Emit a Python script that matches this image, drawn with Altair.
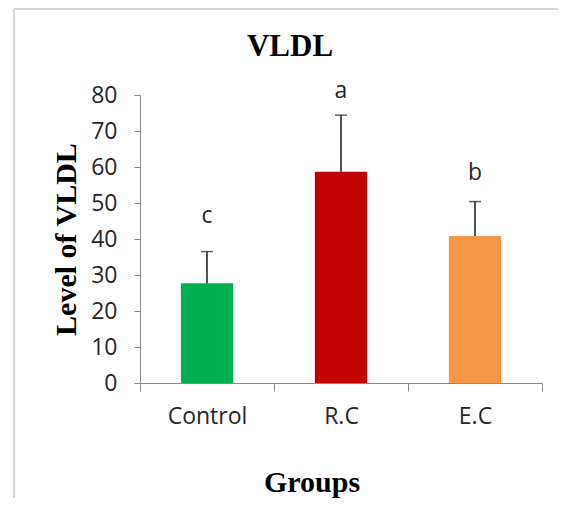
import altair as alt
import pandas as pd

groups = ["Control", "R.C", "E.C"]
means = [27.7, 58.7, 40.8]
upper = [36.5, 74.4, 50.4]
letters = ["c", "a", "b"]
letter_y = [44.4, 79.2, 56.4]
colors = ["#00B050", "#C00000", "#F79646"]
y_ticks = [0, 10, 20, 30, 40, 50, 60, 70, 80]

df = pd.DataFrame({
    "group": groups,
    "mean": means,
    "upper": upper,
    "letter": letters,
    "letter_y": letter_y,
})

x_scale = alt.Scale(domain=groups, paddingInner=0, paddingOuter=0)
x_axis = alt.Axis(
    title="Groups",
    titleFont="Liberation Serif",
    titleFontSize=30,
    titleFontWeight="bold",
    titleColor="#000000",
    titleX=171.5,
    titleY=108,
    titleAlign="center",
    titleBaseline="alphabetic",
    labelFont="Open Sans",
    labelFontSize=23,
    labelColor="#262626",
    labelPadding=14,
    labelAngle=0,
    tickBand="extent",
    tickSize=8,
    tickColor="#878787",
    domainColor="#878787",
    grid=False,
)
x_enc = alt.X("group:N", sort=groups, scale=x_scale, axis=x_axis, title="Groups")

y_scale = alt.Scale(domain=[0, 80], nice=False, zero=True)
y_axis = alt.Axis(
    title="Level of VLDL",
    titleFont="Liberation Serif",
    titleFontSize=30,
    titleFontWeight="bold",
    titleColor="#000000",
    titleX=-65,
    titleY=144,
    titleAngle=-90,
    titleAlign="center",
    titleBaseline="alphabetic",
    values=y_ticks,
    labelOverlap=False,
    labelFont="Open Sans",
    labelFontSize=23,
    labelColor="#262626",
    labelPadding=17,
    tickSize=6,
    tickColor="#878787",
    domainColor="#878787",
    grid=False,
)


def y_enc(field):
    return alt.Y(field, type="quantitative", scale=y_scale, axis=y_axis, title="Level of VLDL")


base = alt.Chart(df)

bars = base.mark_bar(width=alt.RelativeBandSize(0.39)).encode(
    x=x_enc,
    y=y_enc("mean"),
    color=alt.Color("group:N", scale=alt.Scale(domain=groups, range=colors), legend=None),
)

err = base.mark_rule(color="#1a1a1a", strokeWidth=1.5).encode(
    x=x_enc,
    y=y_enc("mean"),
    y2="upper:Q",
)

caps = base.mark_tick(color="#1a1a1a", thickness=1.5, size=12).encode(
    x=x_enc,
    y=y_enc("upper"),
)

labels = base.mark_text(
    font="Open Sans", fontSize=23, color="#262626", baseline="alphabetic"
).encode(
    x=x_enc,
    y=y_enc("letter_y"),
    text="letter:N",
)

frame_df = pd.DataFrame({"k": [0]})
top_border = alt.Chart(frame_df).mark_rule(color="#c4c4c4", strokeWidth=1.5).encode(
    x=alt.value(-126), x2=alt.value(430), y=alt.value(-86)
)
left_border = alt.Chart(frame_df).mark_rule(color="#c4c4c4", strokeWidth=1.5).encode(
    x=alt.value(-126), y=alt.value(-86), y2=alt.value(410)
)

chart = alt.layer(bars, err, caps, labels, top_border, left_border).properties(
    width=402,
    height=288,
    title=alt.TitleParams(
        text="VLDL",
        font="Liberation Serif",
        fontSize=31,
        fontWeight="bold",
        color="#000000",
        anchor="middle",
        frame="group",
        baseline="alphabetic",
        dx=-51,
        offset=-78.75,
    ),
    autosize=alt.AutoSizeParams(type="none"),
    padding={"left": 132, "top": 87, "right": 16, "bottom": 115},
).configure(background="white").configure_view(stroke=None)

chart.save("out.html", embed_options={"renderer": "svg", "actions": False})
